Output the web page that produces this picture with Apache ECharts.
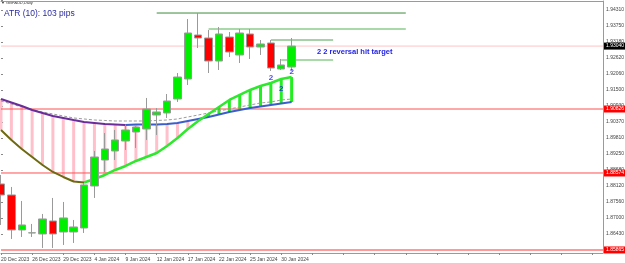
<!DOCTYPE html>
<html>
<head>
<meta charset="utf-8">
<script src="https://cdn.jsdelivr.net/npm/echarts@6/dist/echarts.min.js"></script>
<style>
  html, body { margin: 0; padding: 0; background: #fff; }
  #chart { width: 625px; height: 263px; }
</style>
</head>
<body>
<div id="chart"></div>
<script>
// candles, GBPAUD daily
var dates = [
  "20 Dec 2023", "21 Dec 2023", "22 Dec 2023", "26 Dec 2023", "27 Dec 2023", "28 Dec 2023", "29 Dec 2023",
  "2 Jan 2024", "3 Jan 2024", "4 Jan 2024", "5 Jan 2024", "8 Jan 2024", "9 Jan 2024", "10 Jan 2024",
  "11 Jan 2024", "12 Jan 2024", "15 Jan 2024", "16 Jan 2024", "17 Jan 2024", "18 Jan 2024", "19 Jan 2024",
  "22 Jan 2024", "23 Jan 2024", "24 Jan 2024", "25 Jan 2024", "26 Jan 2024", "29 Jan 2024", "30 Jan 2024",
  "31 Jan 2024"
];
var opens = [1.88187, 1.87800, 1.86569, 1.86463, 1.86428, 1.86885, 1.86498, 1.86498, 1.86639, 1.88117,
  1.89032, 1.89349, 1.89700, 1.90017, 1.90123, 1.90615, 1.90686, 1.91178, 1.91882, 1.93430,
  1.93325, 1.92515, 1.93360, 1.92727, 1.93466, 1.93008, 1.93149, 1.92234, 1.92304];
var closes = [1.87800, 1.86569, 1.86745, 1.86470, 1.86956, 1.86428, 1.86991, 1.86674, 1.88152, 1.89137,
  1.89419, 1.89736, 1.90088, 1.90193, 1.90826, 1.90721, 1.91108, 1.91952, 1.93501, 1.93325,
  1.92515, 1.93466, 1.92832, 1.93501, 1.93008, 1.93114, 1.92269, 1.92375, 1.93040];
var lows = [1.86745, 1.86252, 1.86322, 1.86322, 1.85935, 1.85935, 1.86041, 1.86111, 1.86463, 1.87695,
  1.88610, 1.89032, 1.89384, 1.89454, 1.89736, 1.89912, 1.90510, 1.91073, 1.91671, 1.92973,
  1.92093, 1.92199, 1.92656, 1.92445, 1.92586, 1.92727, 1.92164, 1.92199, 1.92164];
var highs = [1.88504, 1.88082, 1.87589, 1.86780, 1.87132, 1.87695, 1.87554, 1.86921, 1.88223, 1.89349,
  1.89982, 1.90088, 1.90263, 1.90263, 1.91214, 1.90862, 1.91354, 1.92093, 1.93993, 1.94204,
  1.93606, 1.93712, 1.93536, 1.93641, 1.93641, 1.93254, 1.93254, 1.92586, 1.93325];

// moving averages
var slowMA = [1.91178, 1.91055, 1.90932, 1.90791, 1.90686, 1.90580, 1.90510, 1.90439, 1.90369, 1.90334,
  1.90299, 1.90281, 1.90263, 1.90281, 1.90281, 1.90281, 1.90299, 1.90334, 1.90404, 1.90475,
  1.90545, 1.90633, 1.90721, 1.90791, 1.90862, 1.90914, 1.90967, 1.91020, 1.91073];
var fastMA = [1.90088, 1.89736, 1.89419, 1.89137, 1.88856, 1.88610, 1.88434, 1.88275, 1.88240, 1.88363,
  1.88504, 1.88680, 1.88821, 1.88997, 1.89137, 1.89278, 1.89525, 1.89806, 1.90123, 1.90404,
  1.90651, 1.90897, 1.91143, 1.91319, 1.91495, 1.91636, 1.91741, 1.91882, 1.91952];
var signalMA = [1.91108, 1.91002, 1.90897, 1.90809, 1.90721, 1.90651, 1.90580, 1.90510, 1.90475, 1.90439,
  1.90422, 1.90404, 1.90404, 1.90404, 1.90404, 1.90422, 1.90439, 1.90475, 1.90545, 1.90615,
  1.90686, 1.90756, 1.90826, 1.90897, 1.90967, 1.91038, 1.91073, 1.91143, 1.91178];
var slowTurn = 12; // slow MA bottoms here
var fastTurn = 8;  // fast MA bottoms here

// horizontal levels (full width)
var levelPrices = [1.93040, 1.90826, 1.88574, 1.85865];

// target segments (candle index from/to)
var segStart = [15, 20, 26, 27];
var segEnd = [39, 39, 32, 32];
var segPrice = [1.94204, 1.93641, 1.93254, 1.92551];

// "2" count markers
var countIdx = [26, 27, 28];
var countPrice = [1.91917, 1.91530, 1.92128];

// price scale labels
var yTickLabels = ["1.86430", "1.87000", "1.87560", "1.88120", "1.88680", "1.89250", "1.89810", "1.90370",
  "1.90930", "1.91500", "1.92060", "1.92620", "1.93180", "1.93750", "1.94310"];
var yTickBase = 1.85867;
var yTickStep = 0.00563;

var emptySlots = 30;
var categories = dates.slice();
for (var e = 0; e < emptySlots; e++) categories.push("");
var lastSlot = categories.length - 1;

var candleData = [];
for (var i = 0; i < dates.length; i++) {
  candleData.push([opens[i], closes[i], lows[i], highs[i]]);
}

var histData = [];
for (var h = 0; h < dates.length; h++) {
  histData.push([h, slowMA[h], fastMA[h]]);
}

function splitLine(arr, from, to) {
  return arr.map(function(v, k) {
    return k >= from && k <= to ? v : "-";
  });
}

var levelStyles = [
  { color: "#ffc4c4", width: 1, box: "#000" },
  { color: "#ff5050", width: 1, box: "#ff0000" },
  { color: "#ff5050", width: 1, box: "#ff0000" },
  { color: "#ff9a9a", width: 2, box: "#ff0000" }
];
var segStyles = [
  { color: "#3c8c3c", width: 1 },
  { color: "#a9d9a9", width: 2 },
  { color: "#4fa44f", width: 1 },
  { color: "#a9d9a9", width: 2 }
];

// level lines: a two point line across the whole axis, price tag at the end
var levelSeries = levelPrices.map(function(p, k) {
  return {
    name: "level" + k,
    type: "line",
    xAxisIndex: 0,
    yAxisIndex: 0,
    data: [[0, p], [lastSlot, p]],
    symbol: "none",
    z: 1,
    silent: true,
    clip: false,
    lineStyle: { color: levelStyles[k].color, width: levelStyles[k].width, type: "solid" },
    endLabel: {
      show: true,
      distance: 1,
      formatter: p.toFixed(5),
      color: "#fff",
      backgroundColor: levelStyles[k].box,
      fontSize: 5,
      fontFamily: "Liberation Sans",
      padding: [1, 2, 1, 2]
    }
  };
});

var segSeries = segPrice.map(function(p, k) {
  return {
    name: "seg" + k,
    type: "line",
    xAxisIndex: 0,
    yAxisIndex: 0,
    data: [[segStart[k], p], [segEnd[k], p]],
    symbol: "none",
    z: 1,
    silent: true,
    lineStyle: { color: segStyles[k].color, width: segStyles[k].width, type: "solid" }
  };
});

var chart = echarts.init(document.getElementById("chart"));

var option = {
  animation: false,
  backgroundColor: "#fff",
  grid: [
    { left: 1, right: 22, top: 1, bottom: 10, containLabel: false, outerBoundsMode: "none" },
    { left: 1, right: 22, top: 0, bottom: 13, containLabel: false, outerBoundsMode: "none" }
  ],
  xAxis: [
    {
      type: "category",
      gridIndex: 0,
      data: categories,
      boundaryGap: false,
      axisLine: { show: true, lineStyle: { color: "#9a9a9a", width: 1 } },
      axisTick: { show: true, interval: 2, length: 2, lineStyle: { color: "#888" } },
      axisLabel: {
        show: true,
        interval: 2,
        align: "left",
        margin: 4,
        fontSize: 5,
        color: "#444",
        fontFamily: "Liberation Sans"
      },
      splitLine: { show: false }
    },
    { type: "value", gridIndex: 1, min: 0, max: 1, show: false },
    {
      type: "category",
      gridIndex: 0,
      data: categories,
      boundaryGap: false,
      position: "top",
      axisLine: { show: true, lineStyle: { color: "#9a9a9a", width: 1 } },
      axisTick: { show: false },
      axisLabel: { show: false }
    }
  ],
  yAxis: [
    {
      type: "value",
      gridIndex: 0,
      position: "right",
      min: 1.85758,
      max: 1.94627,
      axisLine: { show: true, lineStyle: { color: "#9a9a9a", width: 1 } },
      axisTick: { show: false },
      axisLabel: { show: false },
      splitLine: { show: false }
    },
    {
      type: "value",
      gridIndex: 1,
      position: "right",
      min: yTickBase,
      max: 1.94664,
      interval: yTickStep,
      axisLine: { show: false },
      axisTick: { show: true, length: 2, lineStyle: { color: "#888" } },
      axisLabel: {
        show: true,
        margin: 3,
        fontSize: 5,
        color: "#444",
        fontFamily: "Liberation Sans",
        formatter: function(v) {
          var k = Math.round((v - yTickBase) / yTickStep) - 1;
          return yTickLabels[k] || "";
        }
      },
      splitLine: { show: false }
    }
  ],
  graphic: [
    {
      type: "text",
      left: 1,
      top: 1,
      style: { text: "\u25BC GBPAUD,Daily", font: "4px Liberation Sans", fill: "#333" }
    },
    {
      type: "text",
      left: 4,
      top: 9,
      style: { text: "ATR (10): 103 pips", font: "8.5px Liberation Sans", fill: "#2a2aa0" }
    },
    {
      type: "text",
      left: 317,
      top: 48,
      style: { text: "2 2 reversal hit target", font: "bold 7.5px Liberation Sans", fill: "#1c1ce6" }
    }
  ],
  series: levelSeries.concat(segSeries).concat([
    // histogram between the two averages
    {
      name: "hist",
      type: "custom",
      xAxisIndex: 0,
      yAxisIndex: 0,
      z: 1,
      data: histData,
      renderItem: function(params, api) {
        var a = api.coord([api.value(0), api.value(1)]);
        var b = api.coord([api.value(0), api.value(2)]);
        var up = api.value(2) > api.value(1);
        return {
          type: "rect",
          shape: { x: a[0] - 1.5, y: Math.min(a[1], b[1]), width: 3, height: Math.abs(a[1] - b[1]) },
          style: { fill: up ? "#22ee22" : "#ffc0cb" }
        };
      }
    },
    {
      name: "signal",
      type: "line",
      data: signalMA,
      symbol: "none",
      z: 2,
      lineStyle: { color: "#9c9c9c", width: 1, type: [3, 2] }
    },
    {
      name: "slow down",
      type: "line",
      data: splitLine(slowMA, 0, slowTurn),
      symbol: "none",
      z: 2,
      lineStyle: { color: "#6a2c9a", width: 2 }
    },
    {
      name: "slow up",
      type: "line",
      data: splitLine(slowMA, slowTurn, dates.length - 1),
      symbol: "none",
      z: 2,
      lineStyle: { color: "#3a5fcd", width: 2 }
    },
    {
      name: "fast down",
      type: "line",
      data: splitLine(fastMA, 0, fastTurn),
      symbol: "none",
      z: 2,
      lineStyle: { color: "#6e6a10", width: 2 }
    },
    {
      name: "fast up",
      type: "line",
      data: splitLine(fastMA, fastTurn, dates.length - 1),
      symbol: "none",
      z: 2,
      lineStyle: { color: "#2ee82e", width: 2.5 }
    },
    {
      name: "GBPAUD",
      type: "candlestick",
      data: candleData,
      barWidth: 8,
      z: 3,
      itemStyle: {
        color: "#00ee00",
        color0: "#ff0000",
        borderColor: "#9a9a9a",
        borderColor0: "#9a9a9a",
        borderWidth: 1
      }
    },
    {
      name: "count",
      type: "scatter",
      data: countIdx.map(function(x, k) { return [x, countPrice[k]]; }),
      symbolSize: 0,
      z: 4,
      label: {
        show: true,
        position: "inside",
        formatter: "2",
        color: "#1c1ce6",
        fontWeight: "bold",
        fontSize: 8,
        fontFamily: "Liberation Sans"
      }
    }
  ])
};

chart.setOption(option);
</script>
</body>
</html>
